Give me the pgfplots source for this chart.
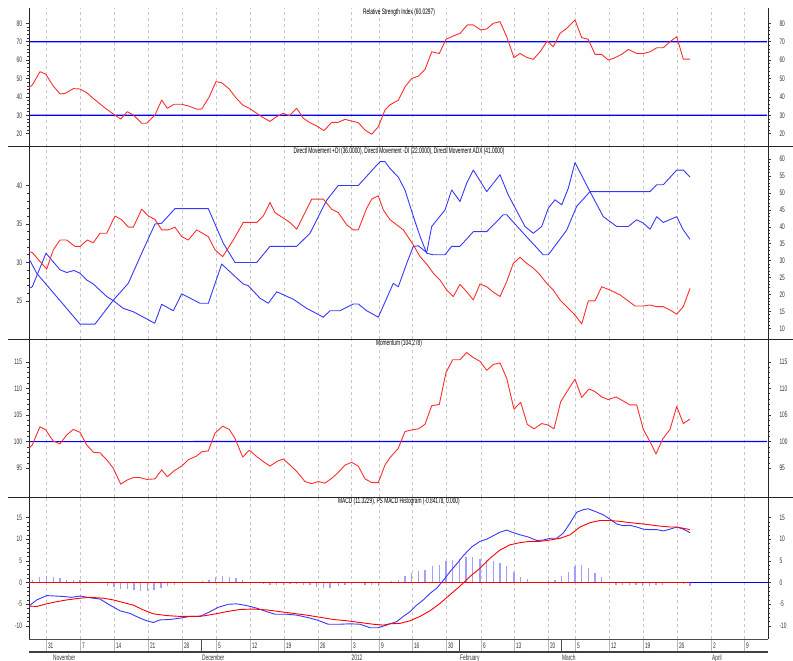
\documentclass[border=0pt]{standalone}
\usepackage{fontspec}
\setmainfont{Liberation Sans}[FakeStretch=0.6]
\usepackage{pgfplots}
\pgfplotsset{compat=1.18}
\definecolor{gridc}{RGB}{200,200,200}
\definecolor{histc}{RGB}{160,160,255}
\definecolor{lred}{RGB}{255,45,45}
\definecolor{lblue}{RGB}{55,55,255}
\newcommand{\tf}{\fontsize{8}{9}\selectfont}
\pgfplotsset{
  panel/.style={scale only axis, width=739pt, xmin=29, xmax=768,
    tick align=outside, major tick length=3pt, minor tick length=1.8pt,
    minor y tick num=4,
    /pgf/number format/assume math mode=true,
    yticklabel style={font=\tf, text=black!80},
    every axis plot/.append style={line width=0.9pt, line join=round},
    y axis line style={-, black!85, line width=0.9pt},
    ytick style={black!80, line width=0.6pt},
  },
  leftax/.style={panel, axis y line*=left, axis x line*=bottom,
    x axis line style={draw=none},
    xtick={46,80,114,148,182,216,250,284,318,351,379,412,446,481,514,548,575,609,643,677,711,744},
    xticklabels={}, major x tick style={draw=none}, xmajorgrids,
    major x grid style={dash pattern=on 3pt off 3pt, color=gridc, line width=0.6pt},
    yticklabel style={xshift=-0.5pt},
    title style={font=\tf, at={(0.5,1)}, anchor=north, yshift=-3pt, xshift=0.5pt},
  },
  rightax/.style={panel, axis y line*=right, axis x line=none,
    yticklabel style={xshift=5pt}},
  refline/.style={draw=blue, line width=1.2pt},
}
\begin{document}
\begin{tikzpicture}
\useasboundingbox (0,0) rectangle (793pt,661pt);
% ---------------- Panel 1: RSI
\begin{axis}[leftax, at={(29pt,653pt)}, anchor=north west, height=139pt,
  ymin=12.8, ymax=88.3, ytick={20,30,...,80},
  title={Relative Strength Index (60.0297)}]
\addplot[refline] coordinates {(30,70)(767,70.01)};
\addplot[refline] coordinates {(30,30)(767,30.01)};
\addplot[lred] coordinates {(29,45.2)(32.3,46.5)(40,53.7)(45.7,52.4)(53.3,45.9)(60,41.6)(65,41.9)(73.3,44.5)(80,44.3)(86.7,42.3)(93.3,39.2)(100,36.2)(106.7,33.3)(113.3,30.7)(120.7,28.0)(127.3,32.0)(133.3,30.2)(141.7,25.7)(146.7,25.7)(155,30.2)(161.7,38.3)(167.3,33.8)(174,36.0)(181.7,36.0)(188.3,35.1)(196.7,33.4)(201.7,33.4)(209.3,40.1)(216,48.3)(221.7,47.7)(229.3,44.3)(235,40.1)(242.7,35.6)(249.3,33.8)(256.7,31.1)(263.3,28.7)(270,26.7)(276.7,29.3)(283.3,31.1)(289.3,29.8)(296.7,33.8)(303.3,28.4)(310,26.0)(316.7,24.2)(324,21.7)(331.7,26.2)(338.3,26.2)(345,27.8)(351.7,26.9)(358.3,26.0)(365,22.0)(371.7,19.7)(378.3,23.8)(385,32.9)(390,35.7)(398.3,38.2)(405,45.5)(411.7,50.0)(418.3,51.3)(425,54.9)(431.7,64.5)(439.3,63.6)(446,71.3)(453.3,73.1)(460,74.5)(467.3,79.1)(473.3,79.1)(480.7,76.4)(486.7,76.9)(493.3,80.0)(500,80.9)(506.7,72.7)(514,61.3)(520,63.6)(526.7,61.5)(533.3,60.4)(540,64.5)(547.3,70.4)(553.3,67.3)(560,74.5)(566.7,77.3)(575,81.8)(581.7,72.2)(588.3,71.3)(595,63.1)(601.7,63.1)(608.3,60.0)(615,61.3)(621.7,63.1)(628.3,65.8)(636.7,63.6)(643.3,63.6)(650,64.5)(656.7,66.7)(663.3,66.7)(670,70.0)(676.7,72.7)(683.3,60.5)(690,60.5)};
\end{axis}
\begin{axis}[rightax, at={(29pt,653pt)}, anchor=north west, height=139pt,
  ymin=12.8, ymax=88.3, ytick={20,30,...,80}]
\end{axis}
% ---------------- Panel 2: DMI
\begin{axis}[leftax, at={(29pt,514pt)}, anchor=north west, height=192.5pt,
  ymin=20.0, ymax=45.0, ytick={25,30,35,40},
  title={Directl Movement +DI (36.0000), Directl Movement -DI (22.0000), Directl Movement ADX (41.0000)}]
\addplot[lblue] coordinates {(29,30.5)(36.7,28.6)(80,22.0)(95,22.0)(113.3,25.1)(128.3,27.3)(141.7,31.2)(155,35.0)(161.7,35.1)(175,37.0)(208.3,37.0)(223.3,32.5)(235,30.0)(256.7,30.0)(270,32.1)(296.7,32.1)(310,33.8)(326.7,38.1)(338.3,40.0)(358.3,40.0)(380,43.1)(385,43.1)(390,42.2)(398.3,41.1)(405,39.4)(413.3,36.0)(420,33.4)(426.7,31.2)(433.3,31.0)(445,31.0)(451.7,32.1)(460,32.1)(473.3,34.0)(486.7,34.0)(503.3,36.2)(506.7,36.2)(523.3,33.8)(543.3,31.0)(548.3,31.0)(566.7,34.2)(576.7,37.3)(590,39.2)(650,39.2)(656.7,40.1)(663.3,40.1)(676.7,42.0)(683.3,42.0)(690,41.1)};
\end{axis}
\begin{axis}[rightax, at={(29pt,514pt)}, anchor=north west, height=192.5pt,
  ymin=6.7, ymax=63.6, ytick={10,15,...,60}]
\addplot[lblue] coordinates {(29,21.8)(32.3,22.3)(46,32.2)(60,27.3)(66.7,26.5)(74,27.1)(80,26.3)(86.7,24.3)(93.3,23.1)(106.7,19.4)(113.3,18.2)(123.3,15.9)(133.3,14.9)(154.7,11.5)(161.7,17.1)(173.3,15.2)(181.7,20.2)(200,17.4)(208.3,17.4)(221.7,29.0)(233.3,25.8)(243.3,23.1)(248.3,22.6)(260,18.9)(268.3,17.4)(276.7,20.8)(293.3,18.6)(306.7,15.9)(323.3,13.3)(330,15.2)(340,15.2)(353.3,17.2)(358.3,17.2)(366.7,15.2)(378.3,13.3)(386.7,18.9)(393.3,23.3)(398.3,22.3)(406.7,29.2)(413.3,34.2)(418.3,34.4)(426.7,32.4)(431.7,40.1)(445,45.0)(451.7,50.9)(460,47.5)(466.7,52.9)(473.3,56.8)(486.7,50.4)(500,55.4)(508.3,49.4)(525,40.1)(533.3,38.1)(541.7,40.1)(548.3,45.5)(555,48.0)(561.7,46.5)(568.3,51.4)(575,59.0)(590,50.4)(603.3,43.0)(616.7,40.1)(628.3,40.1)(636.7,42.1)(643.3,41.1)(650,39.3)(656.7,43.0)(663.3,41.3)(676.7,43.0)(683.3,39.1)(690,36.3)};
\addplot[lred] coordinates {(29,32.7)(32.3,32.4)(46.7,27.5)(53.3,33.2)(60,36.1)(66.7,36.1)(75,34.2)(80,34.2)(87.3,36.1)(93.3,35.3)(100,38.1)(106.7,38.1)(115,43.2)(121.7,42.1)(128.3,39.9)(133.3,39.9)(141.7,45.2)(148.3,43.2)(155,42.2)(161.7,39.1)(168.3,39.1)(175,39.9)(181.7,37.1)(188.3,36.1)(196.7,39.1)(208.3,37.1)(215,33.2)(222.7,31.2)(233.3,36.1)(243.3,41.3)(256.7,41.3)(263.3,43.2)(270,47.2)(275,44.2)(290,41.3)(296.7,39.3)(311.7,48.2)(323.3,48.2)(331.7,45.2)(338.3,44.2)(346.7,40.6)(353.3,39.1)(358.3,39.1)(366.7,45.5)(371.7,48.2)(378.3,49.2)(383.3,45.0)(390,42.1)(396.7,40.6)(403.3,39.1)(413.3,34.7)(420,31.2)(426.7,29.0)(433.3,26.3)(440,24.3)(446.7,21.3)(453.3,19.4)(460,23.0)(466.7,20.8)(473.3,18.4)(480,23.1)(486.7,22.3)(493.3,20.7)(500,19.4)(506.7,23.8)(513.3,29.2)(520,31.0)(526.7,29.2)(533.3,27.8)(540,25.8)(546.7,23.3)(553.3,21.3)(560,18.4)(566.7,16.4)(575,13.9)(581.7,11.3)(588.3,18.1)(595,18.1)(601.7,22.3)(610,21.3)(620,19.9)(635,16.6)(643.3,16.6)(650,16.9)(656.7,16.4)(663.3,16.4)(670,15.4)(676.7,14.2)(683.3,16.4)(690,21.8)};
\end{axis}
% ---------------- Panel 3: Momentum
\begin{axis}[leftax, at={(29pt,321.5pt)}, anchor=north west, height=158pt,
  ymin=89.5, ymax=119.2, ytick={95,100,...,115},
  title={Momentum (104.278)}]
\addplot[refline] coordinates {(30,100)(767,100.03)};
\addplot[lred] coordinates {(29,98.75)(32.3,99.4)(40,102.8)(45.7,102.2)(53.3,100.1)(60,99.6)(66.7,101.25)(73.3,102.3)(80,101.75)(86.7,99.4)(93.3,98.0)(100,97.9)(106.7,96.6)(113.3,95.0)(120.7,92.0)(127.3,92.8)(133.3,93.25)(140,93.25)(146.7,92.9)(155,93.0)(161.7,94.7)(167.3,93.4)(174,94.5)(181.7,95.4)(188.3,96.6)(196.7,97.3)(201.7,98.1)(208.3,98.25)(215,101.6)(222.7,102.9)(229.3,102.3)(235,100.6)(242.7,97.1)(249.3,98.4)(256.7,97.2)(263.3,96.25)(270,95.4)(276.7,96.25)(283.3,96.75)(290,95.6)(296.7,94.4)(305,92.5)(311.7,92.1)(318.3,92.5)(325,92.2)(331.7,93.1)(338.3,94.2)(345,95.6)(351.7,96.1)(358.3,95.4)(365,93.0)(371.7,92.3)(378.3,92.3)(385,95.6)(390,97.0)(398.3,98.75)(405,101.9)(411.7,102.2)(418.3,102.4)(425,103.25)(431.7,106.75)(439.3,107.0)(446,113.0)(452.7,115.4)(460,115.4)(466.7,116.75)(473.3,115.8)(480,115.1)(486.7,113.4)(493.3,114.5)(500,114.8)(506.7,111.9)(514,106.1)(520.7,107.4)(527.3,103.25)(534,102.4)(541.7,103.4)(548.3,103.1)(554,102.4)(560.7,107.5)(568.3,109.8)(575,111.75)(581.7,108.3)(589,109.9)(595,109.4)(601.7,108.4)(608.3,107.9)(616,108.4)(621.7,107.8)(630,106.9)(636.7,106.9)(643.3,102.3)(650,100.0)(656,97.7)(662.7,100.5)(670,102.3)(676.7,106.6)(683.3,103.4)(690,104.25)};
\end{axis}
\begin{axis}[rightax, at={(29pt,321.5pt)}, anchor=north west, height=158pt,
  ymin=89.5, ymax=119.2, ytick={95,100,...,115}]
\end{axis}
% ---------------- Panel 4: MACD
\begin{axis}[leftax, at={(29pt,163.5pt)}, anchor=north west, height=141.5pt,
  ymin=-13.0, ymax=19.6, ytick={-10,-5,...,15},
  title={MACD (11.3229), PS MACD Histogram (-0.84178, 0.000)}]
\addplot[ycomb, draw=histc, line width=1.1pt] coordinates {(32.3,0.6)(39.3,1.2)(46.7,1.5)(53.3,1.3)(60,1.0)(66.7,0.6)(73.3,0.6)(80,0.6)(86.7,0.3)(107.3,-0.9)(114,-1.1)(120.7,-1.5)(127.3,-1.5)(134,-1.7)(140.7,-1.9)(147.3,-1.9)(154,-1.7)(161,-1.2)(167.7,-0.9)(174.3,-0.5)(202.3,0.3)(209,0.6)(215.7,1.2)(222.3,1.4)(229.3,1.3)(236,1.0)(242.7,0.6)(250,0.2)(263.3,-0.3)(270,-0.5)(276.7,-0.6)(283.3,-0.5)(290,-0.4)(296.7,-0.4)(303.3,-0.5)(310,-0.6)(316.7,-1.0)(323.3,-1.2)(330,-1.2)(338.3,-0.8)(345,-0.5)(351.7,-0.4)(365,-0.5)(371.7,-0.6)(378.3,-0.7)(391.7,0.3)(398.3,0.5)(405,1.5)(411.7,2.2)(418.3,2.7)(425,2.9)(432.3,3.8)(439.3,4.0)(446,5.0)(452.7,5.3)(459.3,5.5)(466,6.0)(472.7,6.0)(480,5.5)(486.7,5.2)(493.3,5.0)(500,4.4)(506.7,3.8)(514,2.4)(520.7,1.2)(527.3,0.8)(548.3,0.5)(555,0.5)(561.7,1.5)(568.3,2.4)(575,3.8)(581.7,4.0)(588.3,3.4)(595,2.2)(601.7,1.2)(616,-0.5)(622.7,-0.6)(629.3,-0.5)(636,-0.6)(642.7,-0.7)(649.3,-0.9)(656,-0.6)(662.7,-0.6)(683.3,-0.3)(690,-0.8)};
\addplot[draw=blue, line width=1.1pt] coordinates {(690,0)(768,0)};
\addplot[draw=red, line width=1.1pt] coordinates {(29,0)(690,0)};
\addplot[lblue] coordinates {(29,-5.4)(36.7,-4.0)(46.7,-3.0)(55,-3.1)(63.3,-3.2)(71.7,-3.4)(80,-3.1)(90,-3.5)(100,-3.8)(110,-5.2)(120,-6.5)(130,-7.1)(140,-8.2)(146.7,-8.8)(153.3,-9.2)(160,-8.6)(170,-8.5)(180,-8.2)(190,-7.8)(200,-7.8)(208.3,-6.9)(218.3,-5.7)(228.3,-5.0)(236.7,-4.9)(246.7,-5.3)(256.7,-5.9)(266.7,-6.7)(275,-7.3)(286.7,-7.3)(296.7,-7.5)(306.7,-8.0)(316.7,-8.6)(328.3,-9.6)(340,-9.6)(350,-9.5)(360,-9.6)(370,-10.4)(378.3,-10.4)(386.7,-9.8)(390,-9.5)(396.7,-9.0)(403.3,-7.8)(410,-6.7)(416.7,-5.2)(423.3,-4.0)(430,-2.5)(436.7,-1.3)(443.3,0.5)(450,2.5)(456.7,4.3)(463.3,6.2)(471.7,8.2)(480,9.5)(486.7,10.0)(493.3,10.8)(500,11.6)(506.7,12.1)(513.3,11.5)(520,11.0)(528.3,10.5)(536.7,9.7)(543.3,9.8)(550,10.2)(556.7,10.2)(563.3,11.4)(570,13.7)(576.7,16.2)(583.3,16.8)(588.3,17.0)(595,16.4)(603.3,15.6)(610,14.6)(616.7,13.5)(623.3,13.1)(630,13.2)(636.7,12.8)(643.3,12.3)(650,12.2)(656.7,12.2)(663.3,11.9)(670,12.3)(676.7,12.8)(683.3,12.3)(690,11.5)};
\addplot[draw=red] coordinates {(29,-5.4)(36.7,-5.5)(46.7,-4.9)(56.7,-4.4)(66.7,-4.0)(80,-3.6)(90,-3.4)(103.3,-3.6)(113.3,-4.0)(123.3,-4.6)(133.3,-5.2)(143.3,-6.3)(153.3,-7.2)(166.7,-7.6)(180,-7.8)(193.3,-7.8)(203.3,-7.7)(213.3,-7.3)(226.7,-6.7)(240,-6.2)(253.3,-6.1)(266.7,-6.3)(280,-6.7)(293.3,-7.1)(306.7,-7.5)(320,-8.0)(333.3,-8.5)(346.7,-8.8)(360,-9.2)(373.3,-9.6)(383.3,-9.8)(390,-9.5)(400,-9.4)(410,-8.8)(420,-7.8)(430,-6.5)(440,-4.8)(450,-2.8)(460,-0.8)(470,1.4)(480,3.3)(490,5.6)(500,7.5)(510,8.7)(520,9.2)(530,9.5)(540,9.5)(550,9.8)(560,10.2)(570,11.0)(580,12.8)(590,13.8)(600,14.3)(610,14.3)(620,14.1)(630,13.8)(643.3,13.5)(656.7,13.1)(670,12.8)(676.7,12.8)(683.3,12.5)(690,12.2)};
\end{axis}
\begin{axis}[rightax, at={(29pt,163.5pt)}, anchor=north west, height=141.5pt,
  ymin=-13.0, ymax=19.6, ytick={-10,-5,...,15}]
\end{axis}
% ---------------- date band
\begin{axis}[scale only axis, width=739pt, height=13pt, xmin=29, xmax=768, ymin=0, ymax=1,
  at={(29pt,22pt)}, anchor=north west,
  axis y line=none, axis x line*=bottom, x axis line style={-, black!75, line width=1.2pt},
  xtick={46,80,114,148,182,216,250,284,318,351,379,412,446,481,514,548,575,609,643,677,711,744},
  xticklabels={31,7,14,21,28,5,12,19,26,3,9,16,30,6,13,20,5,12,19,26,2,9},
  tick align=inside, major x tick style={draw=none},
  xmajorgrids, major x grid style={gray!55, line width=0.6pt},
  xticklabel style={font=\tf, anchor=west, yshift=6.5pt, xshift=-1.5pt, text=black!80}]
\end{axis}
\draw[black!85, line width=1pt] (8pt,514pt) -- (793pt,514pt);
\draw[black!85, line width=1pt] (8pt,321.5pt) -- (793pt,321.5pt);
\draw[black!85, line width=1pt] (8pt,163.5pt) -- (793pt,163.5pt);
\draw[black!70, line width=0.9pt] (29pt,22pt) -- (768pt,22pt);
\foreach \mx in {201,459,561} {\draw[black!70, line width=0.8pt] (\mx pt,9pt) -- (\mx pt,21pt);}
\foreach \lab/\mx in {November/53,December/202,2012/351.5,February/460,March/562,April/712}
  {\node[anchor=base west, font=\tf, inner sep=0pt, text=black!80] at (\mx pt,0.5pt) {\lab};}
\end{tikzpicture}
\end{document}
